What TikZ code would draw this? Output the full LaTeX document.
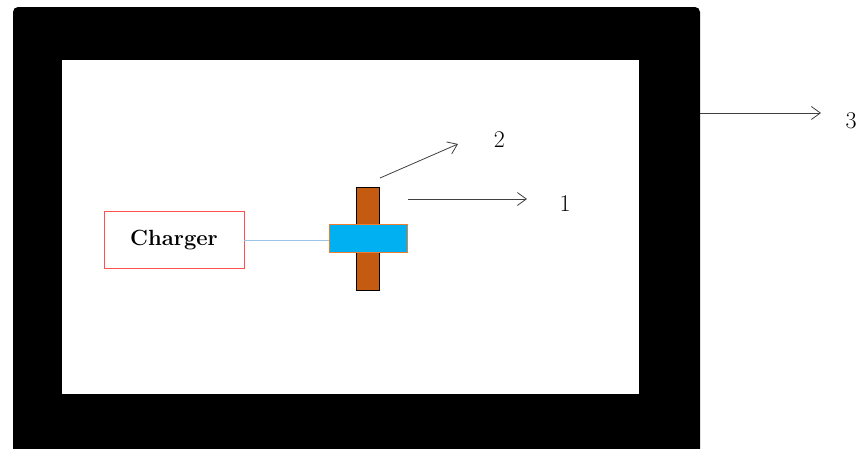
\documentclass[tikz,border=0pt]{standalone}
\usepackage{fontspec}
\usetikzlibrary{arrows.meta}
\definecolor{brownbar}{RGB}{197,90,17}
\definecolor{bluebar}{RGB}{0,176,240}
\definecolor{orangeedge}{RGB}{237,125,49}
\definecolor{linkblue}{RGB}{157,195,230}
\definecolor{chargerred}{RGB}{255,80,80}
\definecolor{arrowgray}{RGB}{64,64,64}
\tikzset{
  dirarrow/.style={draw=arrowgray, line width=0.8pt, -{Straight Barb[length=9pt,width=13pt,line width=0.8pt]}},
  numlabel/.style={font=\fontsize{24}{28}\selectfont, inner sep=0pt},
}
\begin{document}
\begin{tikzpicture}[x=1pt,y=-1pt]
\useasboundingbox (0,0) rectangle (856,448);
\begin{scope}
\clip (0,0) rectangle (856,448);
% frame
\fill[black, rounded corners=5pt] (13,7) rectangle (700,470);
\fill[white] (62,60) rectangle (639,394);
% charger
\node[draw=chargerred, line width=0.8pt, minimum width=140pt, minimum height=57pt, inner sep=0pt,
      font=\bfseries\fontsize{22}{26}\selectfont] (charger) at (174,240) {Charger};
% brown bar
\node[draw=black, fill=brownbar, line width=0.6pt, minimum width=23pt, minimum height=103pt, inner sep=0pt] (bar) at (367.5,238.5) {};
% blue bar
\node[draw=orangeedge, fill=bluebar, line width=0.6pt, minimum width=78pt, minimum height=28pt, inner sep=0pt] (plate) at (368,238) {};
\draw[linkblue, line width=1pt] (charger.east) -- (charger.east -| plate.west);
% arrows
\coordinate (a2s) at (380,178);
\coordinate (a2e) at (458,144);
\coordinate (a1s) at (408,199);
\coordinate (a1e) at (527,199);
\coordinate (a3s) at (700,113);
\coordinate (a3e) at (821,113);
\draw[dirarrow] (a2s) -- (a2e);
\draw[dirarrow] (a1s) -- (a1e);
\draw[dirarrow] (a3s) -- (a3e);
\node[numlabel] (l2) at (499.5,140) {2};
\node[numlabel] (l1) at (565,203.5) {1};
\node[numlabel] (l3) at (851,121) {3};
\end{scope}
\end{tikzpicture}
\end{document}
